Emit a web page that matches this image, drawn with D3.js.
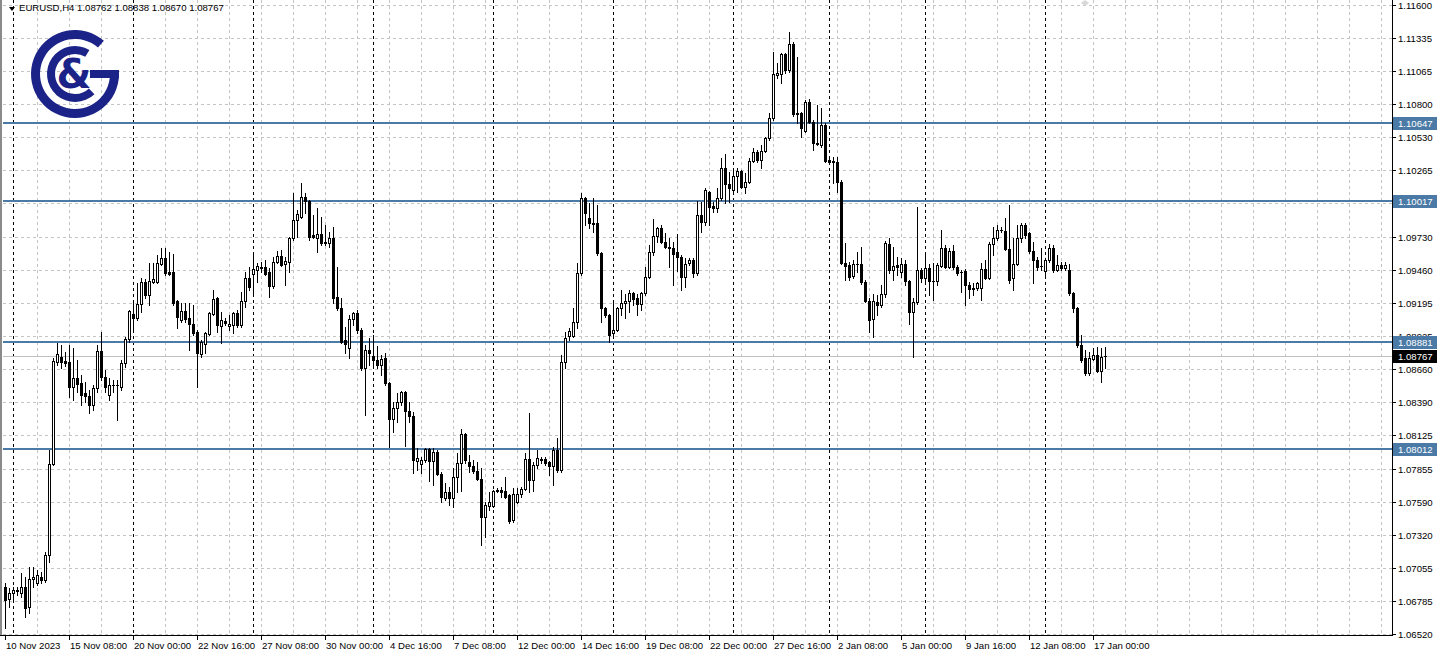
<!DOCTYPE html>
<html><head><meta charset="utf-8">
<script src="https://cdn.jsdelivr.net/npm/d3@7"></script>
<style>html,body{margin:0;padding:0;background:#fff;overflow:hidden}</style>
</head><body>
<svg id="chart" width="1440" height="656"></svg>
<script>
const symbolTitle = "EURUSD,H4";
const lastBar = [1.08762, 1.08838, 1.08670, 1.08767];

const open = [
1.06899,1.06802,1.06851,1.06867,1.06851,1.06899,1.06738,1.06964,1.06932,1.06980,
1.06956,1.07158,1.07893,1.08717,1.08757,1.08725,1.08717,1.08514,1.08587,1.08547,
1.08467,1.08443,1.08370,1.08506,1.08806,1.08595,1.08451,1.08531,1.08531,1.08514,
1.08709,1.08902,1.09105,1.09072,1.09186,1.09363,1.09258,1.09363,1.09363,1.09509,
1.09557,1.09444,1.09444,1.09210,1.09056,1.09129,1.09072,1.09024,1.08959,1.08782,
1.08863,1.08943,1.09105,1.09234,1.09008,1.09048,1.09008,1.09016,1.09113,1.09016,
1.09210,1.09395,1.09428,1.09460,1.09484,1.09484,1.09444,1.09331,1.09525,1.09573,
1.09509,1.09525,1.09718,1.09864,1.09888,1.10050,1.10017,1.09743,1.09718,1.09751,
1.09686,1.09678,1.09718,1.09242,1.09153,1.08895,1.08830,1.09064,1.09113,1.08975,
1.08668,1.08814,1.08765,1.08733,1.08693,1.08749,1.08547,1.08256,1.08345,1.08394,
1.08475,1.08321,1.08281,1.07917,1.07893,1.07925,1.08014,1.07917,1.07990,1.07813,
1.07618,1.07667,1.07618,1.07788,1.07901,1.08136,1.07909,1.07877,1.07837,1.07772,
1.07465,1.07554,1.07554,1.07675,1.07683,1.07675,1.07642,1.07441,1.07586,1.07650,
1.07691,1.07933,1.07764,1.07885,1.07925,1.07933,1.07909,1.07877,1.08006,1.07845,
1.08717,1.08927,1.08927,1.09040,1.09436,1.10041,1.09880,1.09840,1.09840,1.09597,
1.09153,1.09097,1.08951,1.08975,1.09153,1.09194,1.09210,1.09274,1.09234,1.09186,
1.09274,1.09403,1.09605,1.09734,1.09799,1.09686,1.09646,1.09637,1.09605,1.09565,
1.09403,1.09517,1.09541,1.09436,1.09904,1.09848,1.10090,1.09977,1.09960,1.10041,
1.10283,1.10155,1.10106,1.10219,1.10259,1.10130,1.10171,1.10340,1.10413,1.10348,
1.10421,1.10526,1.10687,1.11035,1.11043,1.11205,1.11075,1.11285,1.10728,1.10728,
1.10583,1.10817,1.10655,1.10478,1.10470,1.10631,1.10348,1.10340,1.10332,1.10171,
1.09517,1.09501,1.09411,1.09509,1.09509,1.09363,1.09210,1.09064,1.09202,1.09178,
1.09266,1.09670,1.09460,1.09501,1.09444,1.09509,1.09371,1.09121,1.09202,1.09460,
1.09395,1.09476,1.09371,1.09371,1.09493,1.09637,1.09484,1.09613,1.09484,1.09444,
1.09452,1.09339,1.09316,1.09314,1.09314,1.09468,1.09395,1.09670,1.09718,1.09783,
1.09775,1.09629,1.09395,1.09509,1.09718,1.09823,1.09759,1.09613,1.09541,1.09493,
1.09452,1.09541,1.09637,1.09460,1.09501,1.09476,1.09460,1.09274,1.09153,1.08855,
1.08749,1.08628,1.08741,1.08774,1.08644,1.08762];

const high = [
1.06932,1.06891,1.06899,1.06899,1.07013,1.06980,1.07061,1.07061,1.07037,1.07021,
1.07182,1.08006,1.08749,1.08871,1.08855,1.08798,1.08855,1.08830,1.08733,1.08612,
1.08555,1.08491,1.08531,1.08855,1.08959,1.08652,1.08587,1.08571,1.08571,1.08733,
1.08918,1.09137,1.09194,1.09355,1.09395,1.09387,1.09517,1.09517,1.09581,1.09637,
1.09637,1.09605,1.09589,1.09218,1.09194,1.09194,1.09194,1.09178,1.08975,1.08895,
1.08959,1.09121,1.09298,1.09242,1.09121,1.09072,1.09097,1.09121,1.09137,1.09282,
1.09444,1.09484,1.09581,1.09517,1.09525,1.09541,1.09476,1.09565,1.09613,1.09621,
1.09565,1.09726,1.10082,1.09944,1.10163,1.10082,1.10025,1.09904,1.09960,1.09888,
1.09823,1.09767,1.09807,1.09484,1.09234,1.08999,1.09097,1.09121,1.09137,1.08991,
1.08855,1.08911,1.08935,1.08847,1.08774,1.08790,1.08555,1.08394,1.08467,1.08483,
1.08483,1.08394,1.08313,1.08022,1.07950,1.08022,1.08022,1.08022,1.08006,1.07829,
1.07740,1.07708,1.07861,1.07982,1.08176,1.08144,1.07966,1.07925,1.07909,1.07861,
1.07586,1.07667,1.07683,1.07699,1.07708,1.07788,1.07650,1.07699,1.07699,1.07708,
1.07982,1.08305,1.07909,1.08006,1.07950,1.07950,1.07917,1.08030,1.08103,1.08774,
1.08959,1.08991,1.09153,1.09517,1.10082,1.10050,1.10001,1.10041,1.09985,1.09605,
1.09161,1.09105,1.09194,1.09161,1.09298,1.09266,1.09298,1.09282,1.09266,1.09282,
1.09484,1.09662,1.09872,1.09807,1.09823,1.09759,1.09718,1.09686,1.09751,1.09581,
1.09557,1.09557,1.09557,1.10017,1.10009,1.10122,1.10098,1.10009,1.10122,1.10364,
1.10397,1.10251,1.10267,1.10283,1.10267,1.10243,1.10364,1.10445,1.10429,1.10470,
1.10534,1.10728,1.11221,1.11132,1.11213,1.11213,1.11382,1.11301,1.11180,1.10736,
1.10833,1.10841,1.10671,1.10793,1.10768,1.10647,1.10364,1.10372,1.10372,1.10187,
1.09678,1.09525,1.09541,1.09605,1.09646,1.09379,1.09234,1.09266,1.09258,1.09339,
1.09694,1.09718,1.09646,1.09565,1.09557,1.09541,1.09379,1.09234,1.09968,1.09476,
1.09589,1.09509,1.09517,1.09517,1.09783,1.09662,1.09637,1.09662,1.09501,1.09460,
1.09468,1.09363,1.09355,1.09363,1.09517,1.09541,1.09686,1.09807,1.09823,1.09807,
1.09880,1.09985,1.09718,1.09823,1.09840,1.09840,1.09767,1.09686,1.09565,1.09637,
1.09557,1.09670,1.09662,1.09581,1.09525,1.09525,1.09509,1.09282,1.09161,1.08935,
1.08814,1.08798,1.08830,1.08838,1.08830,1.08838];

const low = [
1.06568,1.06738,1.06795,1.06835,1.06818,1.06657,1.06690,1.06899,1.06916,1.06932,
1.06940,1.07102,1.07885,1.08693,1.08668,1.08685,1.08434,1.08410,1.08475,1.08370,
1.08394,1.08305,1.08329,1.08475,1.08571,1.08475,1.08410,1.08475,1.08248,1.08491,
1.08676,1.08879,1.08959,1.09056,1.09121,1.09234,1.09178,1.09355,1.09355,1.09501,
1.09420,1.09420,1.09178,1.08991,1.09040,1.09040,1.08814,1.08935,1.08514,1.08757,
1.08790,1.08935,1.09097,1.08959,1.08871,1.09016,1.08975,1.08951,1.08999,1.08999,
1.09161,1.09298,1.09250,1.09363,1.09444,1.09420,1.09242,1.09314,1.09517,1.09493,
1.09339,1.09444,1.09702,1.09726,1.09880,1.09920,1.09702,1.09718,1.09605,1.09662,
1.09662,1.09646,1.09194,1.09137,1.08871,1.08790,1.08749,1.09016,1.08951,1.08652,
1.08289,1.08693,1.08668,1.08668,1.08612,1.08531,1.08030,1.08152,1.08232,1.08370,
1.08039,1.08232,1.07821,1.07845,1.07821,1.07909,1.07756,1.07724,1.07805,1.07586,
1.07602,1.07562,1.07546,1.07667,1.07675,1.07901,1.07829,1.07821,1.07764,1.07238,
1.07303,1.07522,1.07546,1.07667,1.07626,1.07618,1.07417,1.07425,1.07578,1.07626,
1.07683,1.07667,1.07675,1.07861,1.07901,1.07885,1.07805,1.07724,1.07829,1.07829,
1.08668,1.08895,1.08918,1.08991,1.09420,1.09823,1.09799,1.09767,1.09581,1.09040,
1.09080,1.08879,1.08911,1.08967,1.09097,1.09072,1.09121,1.09178,1.09097,1.09137,
1.09258,1.09395,1.09581,1.09686,1.09678,1.09637,1.09484,1.09339,1.09452,1.09298,
1.09322,1.09501,1.09403,1.09420,1.09767,1.09823,1.09823,1.09928,1.09928,1.10025,
1.10001,1.10009,1.10090,1.10090,1.10122,1.10082,1.10163,1.10332,1.10332,1.10283,
1.10413,1.10510,1.10671,1.11010,1.10970,1.11051,1.11059,1.10704,1.10647,1.10534,
1.10575,1.10647,1.10429,1.10470,1.10453,1.10332,1.10324,1.10163,1.10090,1.09509,
1.09379,1.09379,1.09395,1.09444,1.09347,1.09202,1.08959,1.08918,1.09097,1.09161,
1.09242,1.09436,1.09379,1.09420,1.09403,1.09339,1.09024,1.08757,1.09186,1.09363,
1.09347,1.09258,1.09218,1.09339,1.09484,1.09476,1.09476,1.09468,1.09420,1.09282,
1.09178,1.09234,1.09258,1.09298,1.09218,1.09390,1.09387,1.09581,1.09702,1.09767,
1.09621,1.09355,1.09298,1.09501,1.09686,1.09718,1.09597,1.09355,1.09460,1.09460,
1.09395,1.09525,1.09444,1.09452,1.09460,1.09460,1.09258,1.09121,1.08838,1.08717,
1.08612,1.08612,1.08733,1.08636,1.08555,1.08670];

const close = [
1.06795,1.06851,1.06875,1.06875,1.06899,1.06730,1.06964,1.06980,1.06997,1.06956,
1.07158,1.07893,1.08725,1.08782,1.08717,1.08709,1.08514,1.08587,1.08539,1.08451,
1.08443,1.08370,1.08506,1.08806,1.08595,1.08514,1.08531,1.08533,1.08529,1.08709,
1.08902,1.09129,1.09072,1.09186,1.09363,1.09258,1.09371,1.09387,1.09517,1.09557,
1.09436,1.09428,1.09194,1.09080,1.09129,1.09064,1.09024,1.08951,1.08790,1.08879,
1.08951,1.09113,1.09226,1.09016,1.09056,1.09032,1.09024,1.09113,1.09016,1.09210,
1.09395,1.09322,1.09468,1.09493,1.09476,1.09428,1.09331,1.09525,1.09573,1.09501,
1.09533,1.09718,1.09864,1.09912,1.10050,1.10017,1.09726,1.09726,1.09751,1.09678,
1.09678,1.09718,1.09234,1.09153,1.08879,1.08863,1.09064,1.09113,1.08975,1.08668,
1.08814,1.08790,1.08733,1.08693,1.08741,1.08547,1.08256,1.08345,1.08394,1.08475,
1.08321,1.08281,1.07925,1.07941,1.07925,1.08014,1.07917,1.07990,1.07813,1.07626,
1.07667,1.07618,1.07788,1.07901,1.08136,1.07925,1.07877,1.07837,1.07772,1.07465,
1.07562,1.07586,1.07675,1.07683,1.07667,1.07626,1.07433,1.07650,1.07650,1.07691,
1.07933,1.07764,1.07885,1.07941,1.07933,1.07901,1.07877,1.08006,1.07845,1.08717,
1.08911,1.08967,1.09040,1.09436,1.10041,1.09920,1.09840,1.09832,1.09597,1.09153,
1.09097,1.08935,1.08975,1.09153,1.09194,1.09210,1.09274,1.09226,1.09186,1.09274,
1.09403,1.09605,1.09734,1.09799,1.09686,1.09646,1.09637,1.09589,1.09565,1.09403,
1.09509,1.09541,1.09436,1.09904,1.09848,1.10106,1.09969,1.09960,1.10041,1.10283,
1.10155,1.10122,1.10219,1.10259,1.10130,1.10171,1.10340,1.10413,1.10348,1.10421,
1.10526,1.10687,1.11043,1.11051,1.11205,1.11075,1.11285,1.10720,1.10720,1.10606,
1.10817,1.10655,1.10486,1.10486,1.10631,1.10340,1.10332,1.10332,1.10171,1.09517,
1.09493,1.09403,1.09509,1.09507,1.09363,1.09210,1.09056,1.09210,1.09178,1.09266,
1.09678,1.09460,1.09493,1.09484,1.09509,1.09371,1.09121,1.09202,1.09460,1.09395,
1.09476,1.09371,1.09369,1.09501,1.09637,1.09484,1.09613,1.09484,1.09436,1.09442,
1.09339,1.09306,1.09306,1.09355,1.09468,1.09395,1.09670,1.09718,1.09783,1.09781,
1.09629,1.09379,1.09509,1.09718,1.09823,1.09743,1.09613,1.09541,1.09484,1.09491,
1.09541,1.09637,1.09460,1.09501,1.09476,1.09501,1.09274,1.09153,1.08855,1.08733,
1.08628,1.08749,1.08774,1.08644,1.08757,1.08767];

const priceTicks = [1.11600,1.11335,1.11065,1.10800,1.10530,1.10265,1.10000,1.09730,1.09460,1.09195,
  1.08925,1.08660,1.08390,1.08125,1.07855,1.07590,1.07320,1.07055,1.06785,1.06520];
const timeLabels = ["10 Nov 2023","15 Nov 08:00","20 Nov 00:00","22 Nov 16:00","27 Nov 08:00","30 Nov 00:00",
  "4 Dec 16:00","7 Dec 08:00","12 Dec 00:00","14 Dec 16:00","19 Dec 08:00","22 Dec 00:00","27 Dec 16:00",
  "2 Jan 08:00","5 Jan 00:00","9 Jan 16:00","12 Jan 08:00","17 Jan 00:00"];
const barsPerTimeLabel = 16;
const barsPerGridLine = 8;
const weekStartBars = [2,32,62,92,122,152,182,206,230,260];
const levels = [1.10647, 1.10017, 1.08881, 1.08012];
const lastPrice = 1.08767;

const FONT = "'Liberation Sans', Arial, sans-serif";
const plotRight = 1392, plotBottom = 635;
const svg = d3.select("#chart");
const y = d3.scaleLinear().domain([1.06520, 1.11600]).range([634, 5]);
const x = d3.scaleLinear().domain([0, 1]).range([5, 9]);
const py = v => Math.round(y(v));

svg.append("rect").attr("width",1440).attr("height",656).attr("fill","#fff");

// horizontal grid
const g = svg.append("g");
g.selectAll("line.hg").data(priceTicks).join("line")
  .attr("x1",3).attr("x2",plotRight).attr("y1",d=>py(d)+0.5).attr("y2",d=>py(d)+0.5)
  .attr("stroke","#c4c4c4").attr("stroke-dasharray","3,3");
// vertical grid
const vIdx = d3.range(barsPerGridLine, 400, barsPerGridLine).filter(i => x(i) < plotRight);
g.selectAll("line.vg").data(vIdx).join("line")
  .attr("x1",d=>Math.round(x(d))+0.5).attr("x2",d=>Math.round(x(d))+0.5)
  .attr("y1",0).attr("y2",plotBottom)
  .attr("stroke","#c4c4c4").attr("stroke-dasharray","3,3");
// week separators
g.selectAll("line.ws").data(weekStartBars).join("line")
  .attr("x1",d=>Math.round(x(d))+0.5).attr("x2",d=>Math.round(x(d))+0.5)
  .attr("y1",0).attr("y2",plotBottom)
  .attr("stroke","#000").attr("stroke-dasharray","3,3");

// bid line
svg.append("line").attr("x1",3).attr("x2",plotRight).attr("y1",py(lastPrice)+0.5).attr("y2",py(lastPrice)+0.5)
  .attr("stroke","#c0c0c0");

// level lines
svg.selectAll("line.lvl").data(levels).join("line")
  .attr("x1",3).attr("x2",plotRight).attr("y1",d=>py(d)).attr("y2",d=>py(d))
  .attr("stroke","#4a7aa5").attr("stroke-width",2);

// candles
const cg = svg.append("g");
open.forEach((o,i) => {
  const c = close[i], h = high[i], l = low[i];
  const cx = Math.round(x(i));
  cg.append("line").attr("x1",cx+0.5).attr("x2",cx+0.5).attr("y1",py(h)).attr("y2",py(l)+1)
    .attr("stroke","#000").attr("stroke-width",1);
  const top = py(Math.max(o,c)), bot = py(Math.min(o,c));
  if (c > o && bot - top >= 2) {
    cg.append("rect").attr("x",cx-0.5).attr("y",top+0.5).attr("width",2).attr("height",bot-top)
      .attr("fill","#fff").attr("stroke","#000").attr("stroke-width",1);
  } else if (bot - top >= 1) {
    cg.append("rect").attr("x",cx-1).attr("y",top).attr("width",3).attr("height",bot-top+1).attr("fill","#000");
  } else {
    cg.append("rect").attr("x",cx-1).attr("y",top).attr("width",3).attr("height",1).attr("fill","#000");
  }
});

// left border
svg.append("rect").attr("x",0).attr("y",0).attr("width",2).attr("height",plotBottom+1).attr("fill","#8a8a8a");

// axes
svg.append("line").attr("x1",plotRight+0.5).attr("x2",plotRight+0.5).attr("y1",0).attr("y2",plotBottom+1).attr("stroke","#000");
svg.append("line").attr("x1",0).attr("x2",plotRight+1).attr("y1",plotBottom+0.5).attr("y2",plotBottom+0.5).attr("stroke","#000");

const ay = svg.append("g");
priceTicks.forEach(v => {
  ay.append("line").attr("x1",plotRight).attr("x2",plotRight+4).attr("y1",py(v)+0.5).attr("y2",py(v)+0.5).attr("stroke","#000");
  ay.append("text").attr("x",plotRight+6).attr("y",py(v)+4).text(v.toFixed(5))
    .attr("font-family",FONT).attr("font-size","9.6px").attr("fill","#000");
});

const ax = svg.append("g");
timeLabels.forEach((t,k) => {
  const xi = Math.round(x(k*barsPerTimeLabel));
  ax.append("line").attr("x1",xi+0.5).attr("x2",xi+0.5).attr("y1",plotBottom).attr("y2",plotBottom+5).attr("stroke","#000");
  ax.append("text").attr("x",xi+1).attr("y",plotBottom+14).text(t)
    .attr("font-family",FONT).attr("font-size","9.6px").attr("fill","#000");
});

// price boxes
function priceBox(v, fill) {
  const yy = py(v);
  svg.append("rect").attr("x",plotRight+1).attr("y",yy-6).attr("width",44).attr("height",13).attr("fill",fill);
  svg.append("text").attr("x",plotRight+6).attr("y",yy+4).text(v.toFixed(5))
    .attr("font-family",FONT).attr("font-size","9.6px").attr("fill","#fff");
}
levels.forEach(v => priceBox(v, "#4a7aa5"));
priceBox(lastPrice, "#000");

// header
svg.append("path").attr("d","M9,7 L15,7 L12,11 Z").attr("fill","#000");
svg.append("text").attr("x",19).attr("y",11)
  .text(symbolTitle + "  " + lastBar.map(v=>v.toFixed(5)).join(" "))
  .attr("font-family",FONT).attr("font-size","9.6px").attr("fill","#000");

// small marker at top
svg.append("path").attr("d","M1085,0 L1089,3 L1085,6 L1081,3 Z").attr("fill","#d8d8d8");

// logo
const logo = svg.append("g").attr("transform","translate(75,74)").attr("fill","#1c2388");
const deg = Math.PI/180;
logo.append("path").attr("d", d3.arc()({innerRadius:35, outerRadius:44, startAngle:90*deg, endAngle:401*deg}));
logo.append("path").attr("d", d3.arc()({innerRadius:20, outerRadius:28, startAngle:136*deg, endAngle:391*deg}));
logo.append("rect").attr("x",15).attr("y",-4).attr("width",29).attr("height",8);
logo.append("text").attr("x",-1).attr("y",14).attr("text-anchor","middle")
  .attr("font-family","'DejaVu Sans', sans-serif").attr("font-weight","bold").attr("font-size","40px").text("&");
</script>
</body></html>
